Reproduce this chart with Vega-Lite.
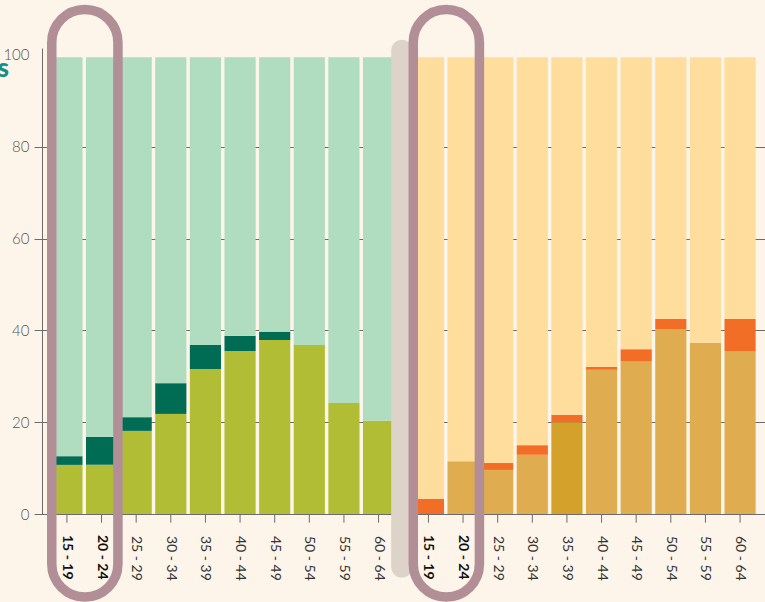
{
  "$schema": "https://vega.github.io/schema/vega-lite/v6.json",
  "width": 723,
  "height": 466,
  "autosize": {"type": "none"},
  "padding": {"left": 42, "top": 48, "right": 0, "bottom": 88},
  "background": "#fdf4ea",
  "config": {"view": {"stroke": null}, "font": "Lato"},
  "datasets": {
    "bars": [
      {"panel": "L", "age": "15 - 19", "part": "L1", "value": 10.7},
      {"panel": "L", "age": "15 - 19", "part": "L2", "value": 1.9},
      {"panel": "L", "age": "15 - 19", "part": "L3", "value": 86.9},
      {"panel": "L", "age": "20 - 24", "part": "L1", "value": 10.7},
      {"panel": "L", "age": "20 - 24", "part": "L2", "value": 6.1},
      {"panel": "L", "age": "20 - 24", "part": "L3", "value": 82.7},
      {"panel": "L", "age": "25 - 29", "part": "L1", "value": 18.1},
      {"panel": "L", "age": "25 - 29", "part": "L2", "value": 3.0},
      {"panel": "L", "age": "25 - 29", "part": "L3", "value": 78.4},
      {"panel": "L", "age": "30 - 34", "part": "L1", "value": 21.8},
      {"panel": "L", "age": "30 - 34", "part": "L2", "value": 6.7},
      {"panel": "L", "age": "30 - 34", "part": "L3", "value": 71.0},
      {"panel": "L", "age": "35 - 39", "part": "L1", "value": 31.6},
      {"panel": "L", "age": "35 - 39", "part": "L2", "value": 5.2},
      {"panel": "L", "age": "35 - 39", "part": "L3", "value": 62.7},
      {"panel": "L", "age": "40 - 44", "part": "L1", "value": 35.5},
      {"panel": "L", "age": "40 - 44", "part": "L2", "value": 3.3},
      {"panel": "L", "age": "40 - 44", "part": "L3", "value": 60.7},
      {"panel": "L", "age": "45 - 49", "part": "L1", "value": 37.9},
      {"panel": "L", "age": "45 - 49", "part": "L2", "value": 1.8},
      {"panel": "L", "age": "45 - 49", "part": "L3", "value": 59.8},
      {"panel": "L", "age": "50 - 54", "part": "L1", "value": 36.8},
      {"panel": "L", "age": "50 - 54", "part": "L3", "value": 62.7},
      {"panel": "L", "age": "55 - 59", "part": "L1", "value": 24.2},
      {"panel": "L", "age": "55 - 59", "part": "L3", "value": 75.3},
      {"panel": "L", "age": "60 - 64", "part": "L1", "value": 20.3},
      {"panel": "L", "age": "60 - 64", "part": "L3", "value": 79.2},
      {"panel": "R", "age": "15 - 19", "part": "R2", "value": 3.3},
      {"panel": "R", "age": "15 - 19", "part": "R3", "value": 96.2},
      {"panel": "R", "age": "20 - 24", "part": "R1", "value": 11.5},
      {"panel": "R", "age": "20 - 24", "part": "R3", "value": 88.0},
      {"panel": "R", "age": "25 - 29", "part": "R1", "value": 9.6},
      {"panel": "R", "age": "25 - 29", "part": "R2", "value": 1.5},
      {"panel": "R", "age": "25 - 29", "part": "R3", "value": 88.4},
      {"panel": "R", "age": "30 - 34", "part": "R1", "value": 12.9},
      {"panel": "R", "age": "30 - 34", "part": "R2", "value": 2.1},
      {"panel": "R", "age": "30 - 34", "part": "R3", "value": 84.5},
      {"panel": "R", "age": "35 - 39", "part": "R1h", "value": 20.0},
      {"panel": "R", "age": "35 - 39", "part": "R2", "value": 1.6},
      {"panel": "R", "age": "35 - 39", "part": "R3", "value": 77.9},
      {"panel": "R", "age": "40 - 44", "part": "R1", "value": 31.4},
      {"panel": "R", "age": "40 - 44", "part": "R2", "value": 0.6},
      {"panel": "R", "age": "40 - 44", "part": "R3", "value": 67.5},
      {"panel": "R", "age": "45 - 49", "part": "R1", "value": 33.3},
      {"panel": "R", "age": "45 - 49", "part": "R2", "value": 2.6},
      {"panel": "R", "age": "45 - 49", "part": "R3", "value": 63.6},
      {"panel": "R", "age": "50 - 54", "part": "R1", "value": 40.3},
      {"panel": "R", "age": "50 - 54", "part": "R2", "value": 2.2},
      {"panel": "R", "age": "50 - 54", "part": "R3", "value": 57.0},
      {"panel": "R", "age": "55 - 59", "part": "R1", "value": 37.3},
      {"panel": "R", "age": "55 - 59", "part": "R3", "value": 62.2},
      {"panel": "R", "age": "60 - 64", "part": "R1", "value": 35.5},
      {"panel": "R", "age": "60 - 64", "part": "R2", "value": 7.0},
      {"panel": "R", "age": "60 - 64", "part": "R3", "value": 57.0}
    ],
    "rings": [
      {"panel": "L"},
      {"panel": "R"}
    ]
  },
  "encoding": {
    "x": {
      "field": "panel",
      "type": "nominal",
      "scale": {"domain": ["L", "R"], "paddingInner": 0, "paddingOuter": 0},
      "axis": {"labels": false, "ticks": false, "title": null, "grid": false, "domainColor": "#6b6b6b", "domainWidth": 1}
    }
  },
  "layer": [
    {
      "data": {"name": "bars"},
      "mark": {"type": "bar", "strokeWidth": 0},
      "encoding": {
        "xOffset": {
          "field": "age",
          "type": "nominal",
          "scale": {"paddingInner": 0.1, "paddingOuter": 0.27}
        },
        "y": {
          "field": "value",
          "type": "quantitative",
          "stack": "zero",
          "scale": {"domain": [0, 101.5], "nice": false},
          "axis": {
            "values": [0, 20, 40, 60, 80, 100],
            "grid": true,
            "gridColor": "#6b6b6b",
            "gridWidth": 1,
            "gridOpacity": {"condition": {"test": "datum.value === 100", "value": 0}, "value": 1},
            "tickOpacity": {"condition": {"test": "datum.value === 100", "value": 0}, "value": 1},
            "tickSize": 8,
            "tickColor": "#6b6b6b",
            "domainColor": "#6b6b6b",
            "labelFont": "Lato",
            "labelFontWeight": 300,
            "labelFontSize": 15,
            "labelColor": "#555555",
            "labelPadding": 5,
            "title": "s",
            "titleAngle": 0,
            "titleX": -45,
            "titleY": 28,
            "titleAlign": "left",
            "titleBaseline": "alphabetic",
            "titleFont": "Lato",
            "titleFontSize": 26,
            "titleFontWeight": 900,
            "titleColor": "#14908b"
          }
        },
        "color": {
          "field": "part",
          "type": "nominal",
          "scale": {
            "domain": ["L1", "L2", "L3", "R1", "R1h", "R2", "R3"],
            "range": ["#b1be35", "#006c54", "#b0dcbf", "#dfad50", "#d4a12a", "#f26d25", "#ffdd9c"]
          },
          "legend": null
        },
        "order": {"field": "part", "sort": "ascending"}
      }
    },
    {
      "data": {"name": "bars"},
      "transform": [{"aggregate": [{"op": "count", "as": "n"}], "groupby": ["panel", "age"]}],
      "mark": {"type": "rule", "color": "#6b6b6b", "strokeWidth": 1},
      "encoding": {
        "xOffset": {"field": "age", "type": "nominal"},
        "y": {"datum": 0},
        "y2": {"datum": -1.9}
      }
    },
    {
      "data": {"name": "bars"},
      "transform": [
        {"aggregate": [{"op": "count", "as": "n"}], "groupby": ["panel", "age"]},
        {"filter": "datum.age !== '15 - 19' && datum.age !== '20 - 24'"}
      ],
      "mark": {"type": "text", "angle": 90, "align": "left", "baseline": "middle", "dx": 22, "font": "Lato", "fontSize": 14, "color": "#333333"},
      "encoding": {
        "xOffset": {"field": "age", "type": "nominal"},
        "y": {"datum": 0},
        "text": {"field": "age"}
      }
    },
    {
      "data": {"name": "bars"},
      "transform": [
        {"aggregate": [{"op": "count", "as": "n"}], "groupby": ["panel", "age"]},
        {"filter": "datum.age === '15 - 19' || datum.age === '20 - 24'"}
      ],
      "mark": {"type": "text", "angle": 90, "align": "left", "baseline": "middle", "dx": 21, "font": "Lato", "fontSize": 14, "fontWeight": "bold", "color": "#111111"},
      "encoding": {
        "xOffset": {"field": "age", "type": "nominal"},
        "y": {"datum": 0},
        "text": {"field": "age"}
      }
    },
    {
      "data": {"values": [{"panel": "L"}]},
      "mark": {"type": "rule", "color": "#ddd3c9", "strokeWidth": 21, "strokeCap": "round"},
      "encoding": {
        "x": {"field": "panel", "type": "nominal", "bandPosition": 0.995},
        "y": {"datum": 101.0},
        "y2": {"datum": -11.6}
      }
    },
    {
      "data": {"name": "rings"},
      "mark": {"type": "rect", "fill": null, "fillOpacity": 0, "stroke": "#b28f96", "strokeWidth": 9.5, "cornerRadius": 33, "clip": false},
      "encoding": {
        "x": {"field": "panel", "type": "nominal", "bandPosition": 0.027},
        "x2": {"field": "panel", "bandPosition": 0.21},
        "y": {"datum": 109.9},
        "y2": {"datum": -18.1}
      }
    }
  ]
}
